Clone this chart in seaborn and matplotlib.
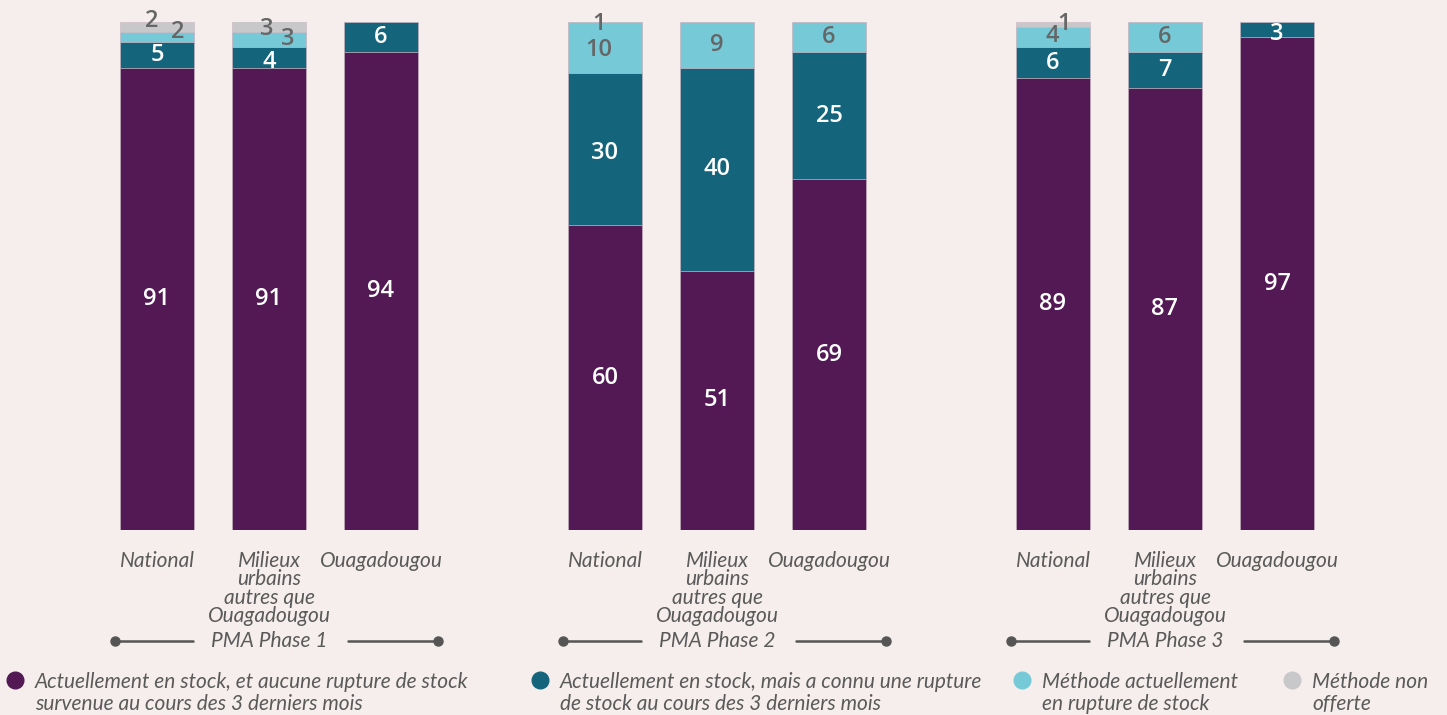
import numpy as np
import pandas as pd
import matplotlib
matplotlib.use("Agg")
import matplotlib.pyplot as plt
import seaborn as sns

# données (%)
phases = ['PMA Phase 1', 'PMA Phase 2', 'PMA Phase 3']
lieux = ['National', 'Milieux\nurbains\nautres que\nOuagadougou', 'Ouagadougou']
en_stock = [91, 91, 94, 60, 51, 69, 89, 87, 97]
rupture_passee = [5, 4, 6, 30, 40, 25, 6, 7, 3]
rupture_actuelle = [2, 3, 0, 10, 9, 6, 4, 6, 0]
non_offerte = [2, 3, 0, 1, 0, 0, 1, 0, 0]

series = ['Actuellement en stock, et aucune rupture de stock\nsurvenue au cours des 3 derniers mois',
          'Actuellement en stock, mais a connu une rupture\nde stock au cours des 3 derniers mois',
          'Méthode actuellement\nen rupture de stock',
          'Méthode non\nofferte']
couleurs = ['#521955', '#14647B', '#76CAD8', '#C8C8CA']
couleurs_txt = ['white', 'white', '#666666', '#666666']

fond = '#F5EEEC'
gris = '#5a5a5a'

# positions des barres (un espace entre les phases)
pos = [g * 4 + i for g in range(3) for i in range(3)]

df = pd.DataFrame({'pos': pos, 's0': en_stock, 's1': rupture_passee,
                   's2': rupture_actuelle, 's3': non_offerte})
valeurs = df[['s0', 's1', 's2', 's3']].values
cumul = valeurs.cumsum(axis=1)
for k in range(4):
    df['c%d' % k] = cumul[:, k]

sns.set_theme(style='white')
plt.rcParams['font.family'] = ['Lato', 'DejaVu Sans']

fig = plt.figure(figsize=(14.47, 7.15), dpi=100, facecolor=fond)
ax = fig.add_axes([0, (715 - 530) / 715, 1, (530 - 22) / 715])
ax.set_facecolor(fond)

# barres empilées : on dessine les cumuls du haut vers le bas
for k in [3, 2, 1, 0]:
    sns.barplot(data=df, x='pos', y='c%d' % k, native_scale=True, width=0.66,
                color=couleurs[k], saturation=1, errorbar=None,
                edgecolor='#cdbcc6', linewidth=0.5, ax=ax)

# décalages manuels des étiquettes (pixels) pour les petits segments
decalage = {(0, 3): (-5, 6), (0, 2): (21, 5),
            (1, 3): (-2, -4.5), (1, 2): (19, 1), (1, 1): (0, -4),
            (3, 3): (-6, -4.5), (3, 2): (-6, -3), (3, 1): (0, -4),
            (6, 3): (11, 1), (6, 2): (-1, 1),
            (8, 1): (0, -4.4)}

for b in range(len(pos)):
    bas = 0
    for k in range(4):
        v = valeurs[b, k]
        if v > 0:
            dx, dy = decalage.get((b, k), (0, 0))
            ax.annotate(str(v), (pos[b], bas + v / 2), xytext=(dx * 0.72, dy * 0.72),
                        textcoords='offset points', ha='center', va='center',
                        fontsize=17, fontweight='semibold', color=couleurs_txt[k],
                        annotation_clip=False, family=['Open Sans', 'DejaVu Sans'])
        bas += v

ax.set_xlim(-157 / 112, (1447 - 157) / 112)
ax.set_ylim(0, 100)
ax.set_xticks(pos)
ax.set_xticklabels(lieux * 3, fontstyle='italic', fontsize=15, color=gris,
                   linespacing=0.9)
ax.tick_params(axis='x', length=0, pad=15)
ax.set_yticks([])
ax.set_xlabel('')
ax.set_ylabel('')
sns.despine(ax=ax, left=True, bottom=True)

# libellés des phases avec traits et points
px = 100 / 508
y_phase = -(641 - 530) * px
for g, ph in enumerate(phases):
    c = g * 4 + 1
    ax.plot([c - 1.375, c - 0.68], [y_phase, y_phase], color='#555555', lw=1.8, clip_on=False)
    ax.plot([c + 0.705, c + 1.51], [y_phase, y_phase], color='#555555', lw=1.8, clip_on=False)
    ax.plot([c - 1.375, c + 1.51], [y_phase, y_phase], ls='none', marker='o', ms=6.5,
            color='#555555', clip_on=False)
    ax.text(c, y_phase, ph, ha='center', va='center', fontsize=15, fontstyle='italic',
            color=gris)

# légende manuelle
leg_x = [15, 540, 1022, 1292]
for k in range(4):
    ax.plot([leg_x[k] / 1447], [1 - 680 / 715], marker='o', ms=12, color=couleurs[k],
            transform=fig.transFigure, clip_on=False)
    fig.text((leg_x[k] + 20) / 1447, 1 - 693 / 715, series[k], ha='left', va='center',
             fontsize=15, fontstyle='italic', color=gris, linespacing=1.1)

fig.savefig('out.png', dpi=100, facecolor=fond)
